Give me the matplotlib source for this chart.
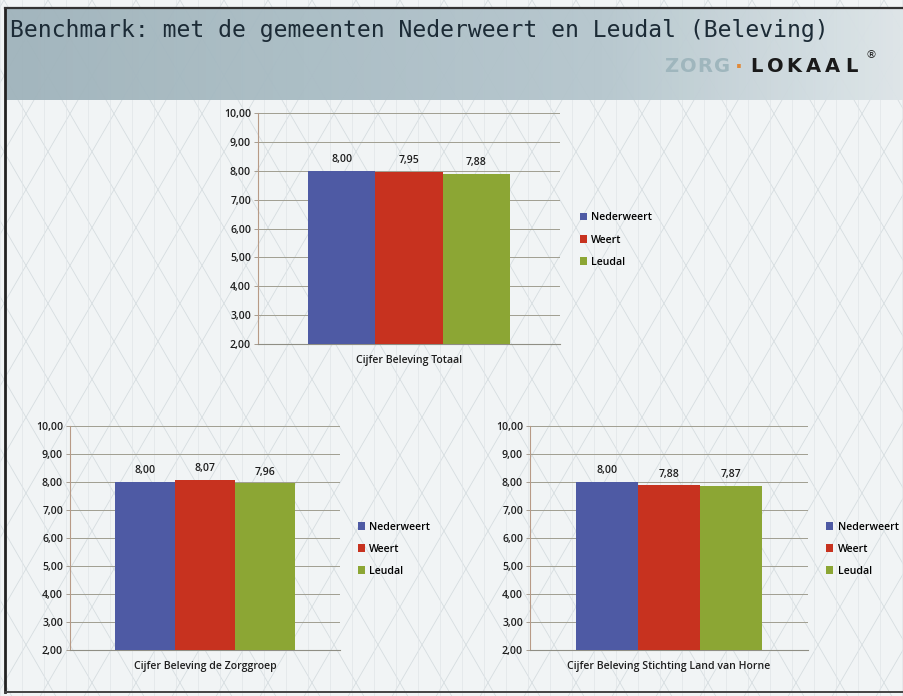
import numpy as np
import matplotlib
matplotlib.use("Agg")
import matplotlib.pyplot as plt
from matplotlib.colors import LinearSegmentedColormap

# ---- data ----
series = ["Nederweert", "Weert", "Leudal"]
colors = ["#4E5AA4", "#C7321F", "#8CA634"]
charts = [
    ("Cijfer Beleving Totaal", [8.00, 7.95, 7.88]),
    ("Cijfer Beleving de Zorggroep", [8.00, 8.07, 7.96]),
    ("Cijfer Beleving Stichting Land van Horne", [8.00, 7.88, 7.87]),
]
yticks = [2, 3, 4, 5, 6, 7, 8, 9, 10]
title = "Benchmark: met de gemeenten Nederweert en Leudal (Beleving)"

W, H = 904, 696
fig = plt.figure(figsize=(W / 100, H / 100), dpi=100)
fig.patch.set_facecolor("#f1f4f5")

# ---- background decoration ----
bg = fig.add_axes([0, 0, 1, 1], zorder=-5)
bg.set_xlim(0, W)
bg.set_ylim(H, 0)
bg.axis("off")
for x in np.arange(-700, W + 700, 44):
    bg.plot([x, x + 700 * 0.58], [0, 700], color="#d6dde0", lw=0.6, zorder=0)
    bg.plot([x, x - 700 * 0.58], [0, 700], color="#d6dde0", lw=0.6, zorder=0)
for x in np.arange(0, W, 22):
    bg.plot([x, x], [0, H], color="#e0e5e8", lw=0.5, zorder=0)
grad = np.linspace(0, 1, 256)[None, :]
cmap = LinearSegmentedColormap.from_list("hdr", ["#9fb3bb", "#a9bcc4", "#b5c6cd", "#dde5e8"])
bg.imshow(grad, extent=[6, W, 100, 8], aspect="auto", cmap=cmap, zorder=1, alpha=0.95)
bg.plot([5, 5], [8, 692], color="#222222", lw=2.0, zorder=3)
bg.plot([5, W], [8, 8], color="#333333", lw=1.6, zorder=3)
bg.plot([5, W], [692, 692], color="#444444", lw=1.4, zorder=3)

fig.text(10 / W, 1 - 31 / H, title, family="DejaVu Sans Mono", fontsize=16.6,
         color="#1c2b36", va="center", ha="left")
for i, ch in enumerate("ZORG"):
    fig.text((671 + i * 17) / W, 1 - 67 / H, ch, family="DejaVu Sans", fontweight="bold",
             fontsize=14, color="#9fb6bd", va="center", ha="center")
fig.text(739 / W, 1 - 67 / H, "·", family="DejaVu Sans", fontweight="bold",
         fontsize=15, color="#e08a3a", va="center", ha="center")
for i, ch in enumerate("LOKAAL"):
    fig.text((756 + i * 19) / W, 1 - 67 / H, ch, family="DejaVu Sans", fontweight="bold",
             fontsize=14, color="#1a1a1a", va="center", ha="center")
fig.text(866 / W, 1 - 55 / H, "®", family="DejaVu Sans", fontsize=8,
         color="#1a1a1a", va="center", ha="left")

# ---- charts ----
boxes = [
    (258, 113, 560, 344),
    (70, 426, 340, 650),
    (530, 426, 808, 650),
]
font = "Open Sans"
fs = 7.6
for (label, vals), (x0, y0, x1, y1) in zip(charts, boxes):
    ax = fig.add_axes([x0 / W, 1 - y1 / H, (x1 - x0) / W, (y1 - y0) / H])
    ax.set_facecolor("none")
    xs = np.arange(len(vals)) - 1
    for xi, v, c, s in zip(xs, vals, colors, series):
        ax.bar(xi, v - 2, bottom=2, width=1.0, color=c, label=s, zorder=3)
        ax.text(xi, v + 0.2, f"{v:.2f}".replace(".", ","), ha="center", va="bottom",
                fontsize=fs, family=font, fontweight="semibold", color="#1e1e1e", zorder=4)
    ax.set_xlim(-2.25, 2.25)
    ax.set_ylim(2, 10)
    ax.set_yticks(yticks)
    ax.set_yticklabels([f"{t:.2f}".replace(".", ",") for t in yticks],
                       fontsize=fs, family=font, fontweight="semibold", color="#1e1e1e")
    ax.set_xticks([0])
    ax.set_xticklabels([label], fontsize=fs, family=font, fontweight="semibold",
                       color="#1e1e1e")
    ax.tick_params(axis="x", length=0, pad=8)
    ax.tick_params(axis="y", length=3, width=0.6, color="#9a8f80", pad=2)
    ax.grid(axis="y", color="#a09e90", lw=0.7, zorder=1)
    for sp in ["top", "right"]:
        ax.spines[sp].set_visible(False)
    ax.spines["left"].set_color("#b89a86")
    ax.spines["left"].set_linewidth(0.8)
    ax.spines["bottom"].set_color("#8f8e84")
    ax.spines["bottom"].set_linewidth(0.8)
    ax.legend(loc="center left", bbox_to_anchor=(1.065, 0.45), frameon=False,
              handlelength=0.7, handleheight=0.7,
              handletextpad=0.4, labelspacing=1.05, borderpad=0, borderaxespad=0,
              prop={"family": font, "size": fs, "weight": "semibold"})

fig.savefig("out.png", dpi=100, facecolor=fig.get_facecolor())
